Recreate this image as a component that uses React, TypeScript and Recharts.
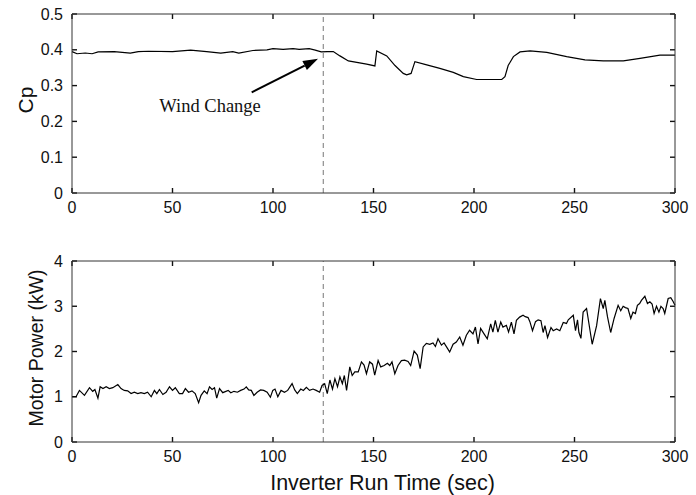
import {
  LineChart,
  Line,
  XAxis,
  YAxis,
  ReferenceLine,
  ReferenceDot,
} from "recharts";

// time axis ticks shared by both panels
const timeTicks = [0, 50, 100, 150, 200, 250, 300];
const cpTicks = [0, 0.1, 0.2, 0.3, 0.4, 0.5];
const powerTicks = [0, 1, 2, 3, 4];

const windChangeTime = 125;

// Cp (top panel)
const cpTime = [
  0, 2.5, 6.6, 10, 13, 21, 29, 33, 38, 50, 59, 67, 74, 80, 83, 90, 97, 100,
  105, 110, 113, 118, 121, 124, 127, 130, 133.3, 137.5, 146.6, 150.7, 151.6,
  156.6, 160.7, 164.8, 166.5, 168.7, 170.6, 176.5, 183, 189.7, 194.7, 201.3,
  213.8, 215.4, 217, 219.6, 222.9, 227.9, 236.2, 246.1, 255.2, 264.3, 274.3,
  282.6, 292.5, 300,
];
const cpValue = [
  0.395, 0.389, 0.391, 0.389, 0.394, 0.395, 0.391, 0.395, 0.396, 0.395, 0.399,
  0.395, 0.391, 0.395, 0.391, 0.398, 0.4, 0.403, 0.401, 0.403, 0.401, 0.403,
  0.399, 0.394, 0.395, 0.395, 0.383, 0.369, 0.36, 0.355, 0.397, 0.383, 0.356,
  0.334, 0.33, 0.334, 0.367, 0.358, 0.348, 0.337, 0.325, 0.317, 0.317, 0.325,
  0.356, 0.381, 0.394, 0.397, 0.393, 0.381, 0.372, 0.369, 0.369, 0.376, 0.385,
  0.385,
];

// Motor power (bottom panel), kW
const powerTime = [
  0, 2, 3.7, 6.2, 8.7, 10.3, 11.4, 12.9, 14, 15.4, 17, 18.6, 20.3, 22.8, 24.4,
  26, 27.7, 29.4, 31, 32.7, 34.3, 36, 37.6, 39.4, 41, 42.2, 43.5, 45.2, 46.8,
  48.5, 50, 51.4, 53.4, 55, 56.4, 58, 59.7, 61.3, 63, 64.2, 65.8, 67.2, 68.4,
  69.7, 70.9, 72, 73.4, 75, 77.7, 79, 80.6, 82.3, 83.9, 85.6, 86.7, 87.9, 89.2,
  90.5, 92.1, 93.8, 95.4, 97.1, 98.7, 99.9, 101, 102.4, 104, 105.7, 107.3,
  109.5, 110.8, 112.1, 113.8, 115.1, 116.6, 118.2, 119.9, 121.5, 123.2, 124.4,
  125.7, 127, 128.3, 129.6, 130.8, 132.1, 133.3, 134.5, 135.5, 136.6, 138.2,
  139.4, 140.7, 142.4, 144, 145.3, 146.5, 148.1, 149.5, 150.6, 152.3, 153.6,
  155.3, 156.9, 158.1, 159.2, 160.6, 162.2, 163.9, 165.5, 167.2, 168.5, 170.2,
  171.8, 173.2, 174.7, 176.3, 178, 179.6, 180.8, 182.1, 183.8, 185.1, 186.8,
  187.9, 189.6, 191.2, 192.9, 194.5, 196.2, 197.8, 199.5, 200.7, 202, 203.3,
  205, 206.6, 208.3, 209.4, 210.6, 211.9, 213.3, 214.4, 216.1, 217.2, 218.6,
  219.9, 221.1, 222.7, 224.4, 225.5, 226.9, 227.8, 229.1, 230.6, 231.9, 233.3,
  234.4, 235.3, 236.6, 238.3, 239.4, 241.1, 242.7, 244.4, 246, 246.9, 249.4,
  250.5, 251.5, 252.2, 253.2, 254.3, 256, 258.8, 261, 262.9, 264.3, 265.1,
  266.4, 268, 269.7, 271.7, 273, 274.2, 275.3, 276.6, 278, 279.1, 280.3, 281.3,
  282.4, 283.3, 285, 286.3, 287.5, 288.6, 289.6, 290.8, 292, 293, 294.1, 294.9,
  296.6, 297.9, 299, 300,
];
const powerValue = [
  1.0, 1.0, 1.14, 1.03, 1.2, 1.12, 1.16, 0.97, 1.22, 1.18, 1.22, 1.18, 1.2,
  1.27, 1.18, 1.14, 1.13, 1.07, 1.1, 1.07, 1.09, 1.07, 1.1, 1.0, 1.14, 1.07,
  1.16, 1.05, 1.1, 1.22, 1.14, 1.2, 1.07, 1.07, 1.18, 1.1, 1.13, 1.07, 0.87,
  1.03, 1.13, 1.07, 1.22, 1.16, 1.2, 0.97, 1.18, 1.09, 1.14, 1.09, 1.12, 1.1,
  1.14, 1.17, 1.22, 1.15, 1.14, 1.03, 1.1, 1.15, 1.14, 1.1, 0.99, 1.14, 1.17,
  1.0, 1.14, 1.1, 1.14, 1.29, 1.15, 1.07, 1.17, 1.14, 1.21, 1.14, 1.17, 1.14,
  1.1, 1.25, 1.29, 1.07, 1.37, 1.17, 1.4, 1.22, 1.44, 1.29, 1.47, 1.14, 1.66,
  1.47, 1.55, 1.55, 1.77, 1.7, 1.51, 1.77, 1.72, 1.48, 1.8, 1.66, 1.69, 1.74,
  1.69, 1.77, 1.51, 1.69, 1.8, 1.81, 1.78, 1.69, 2.01, 1.92, 1.62, 2.1, 2.18,
  2.16, 2.19, 2.11, 2.28, 2.14, 2.19, 2.07, 1.99, 2.16, 2.21, 2.32, 2.14, 2.36,
  2.47, 2.39, 2.54, 2.17, 2.51, 2.39, 2.28, 2.61, 2.43, 2.69, 2.43, 2.65, 2.54,
  2.58, 2.43, 2.65, 2.39, 2.69, 2.76, 2.8, 2.77, 2.75, 2.66, 2.46, 2.66, 2.7,
  2.68, 2.42, 2.57, 2.31, 2.53, 2.46, 2.5, 2.46, 2.64, 2.62, 2.7, 2.8, 2.46,
  2.7, 2.42, 2.29, 2.87, 2.95, 2.16, 2.57, 3.17, 2.95, 3.13, 2.77, 2.42, 2.73,
  3.02, 2.9, 3.0, 2.97, 2.95, 2.73, 2.87, 2.84, 3.02, 3.06, 3.13, 3.22, 3.06,
  3.1, 3.05, 2.84, 3.0, 2.87, 3.0, 2.95, 2.84, 3.17, 3.19, 3.11, 3.02,
];

// annotation anchors (data units)
const arrowFrom = { x: 89.4, y: 0.281 };
const arrowTo = { x: 122.4, y: 0.375 };
const annotationAt = { x: 68.7, y: 0.245 };

const cpData = cpTime.map((t, i) => ({ t, v: cpValue[i] }));
const powerData = powerTime.map((t, i) => ({ t, v: powerValue[i] }));

const SANS = "'Liberation Sans', Arial, sans-serif";
const axisColor = "#333";
const TICK_LEN = 5;
const tickFont = { fontSize: 16, fill: "#111", fontFamily: SANS };

// inward tick marks at both ends of a reference line (matlab box style)
function InTicks(p: any) {
  const { x1, y1, x2, y2 } = p;
  if (Math.abs(x1 - x2) < 0.5) {
    const top = Math.min(y1, y2);
    const bot = Math.max(y1, y2);
    return (
      <g stroke="#111" strokeWidth={1.4}>
        <line x1={x1} x2={x1} y1={bot} y2={bot - TICK_LEN} />
        <line x1={x1} x2={x1} y1={top} y2={top + TICK_LEN} />
      </g>
    );
  }
  const left = Math.min(x1, x2);
  const right = Math.max(x1, x2);
  return (
    <g stroke="#111" strokeWidth={1.4}>
      <line x1={left} x2={left + TICK_LEN} y1={y1} y2={y1} />
      <line x1={right} x2={right - TICK_LEN} y1={y1} y2={y1} />
    </g>
  );
}

function tickMarks(yTicks: number[]) {
  return [
    ...timeTicks.map((t) => (
      <ReferenceLine key={`tx${t}`} x={t} shape={InTicks} ifOverflow="visible" />
    )),
    ...yTicks.map((v) => (
      <ReferenceLine key={`ty${v}`} y={v} shape={InTicks} ifOverflow="visible" />
    )),
  ];
}

function Arrow(props: any) {
  const { x1, y1, x2, y2 } = props;
  const dx = x2 - x1;
  const dy = y2 - y1;
  const len = Math.sqrt(dx * dx + dy * dy);
  const ux = dx / len;
  const uy = dy / len;
  const headLen = 15;
  const headHalf = 5;
  const bx = x2 - ux * headLen;
  const by = y2 - uy * headLen;
  return (
    <g>
      <line x1={x1} y1={y1} x2={bx} y2={by} stroke="#000" strokeWidth={2} />
      <polygon
        points={`${x2},${y2} ${bx - uy * headHalf},${by + ux * headHalf} ${bx + uy * headHalf},${by - ux * headHalf}`}
        fill="#000"
      />
    </g>
  );
}

function boxAxes(yDomain: number[], yTicks: number[], xMargin: number) {
  return [
    <XAxis
      key="xb"
      dataKey="t"
      type="number"
      domain={[0, 300]}
      ticks={timeTicks}
      height={30}
      tickSize={0}
      tickLine={false}
      tickMargin={xMargin}
      tick={tickFont}
      stroke={axisColor}
    />,
    <XAxis
      key="xt"
      xAxisId="top"
      dataKey="t"
      type="number"
      orientation="top"
      domain={[0, 300]}
      height={1}
      tick={false}
      tickLine={false}
      stroke={axisColor}
    />,
    <YAxis
      key="yl"
      type="number"
      domain={yDomain}
      ticks={yTicks}
      width={60}
      tickSize={0}
      tickLine={false}
      tickMargin={9}
      tick={tickFont}
      stroke={axisColor}
    />,
    <YAxis
      key="yr"
      yAxisId="right"
      orientation="right"
      type="number"
      domain={yDomain}
      width={1}
      tick={false}
      tickLine={false}
      stroke={axisColor}
    />,
  ];
}

export default function App() {
  return (
    <div
      style={{
        position: "absolute",
        left: 0,
        top: 0,
        width: 696,
        height: 495,
        background: "#fff",
      }}
    >
      <div style={{ position: "absolute", left: 0, top: 0 }}>
        <LineChart
          width={696}
          height={230}
          data={cpData}
          margin={{ top: 13, right: 20, bottom: 7, left: 12 }}
        >
          {boxAxes([0, 0.5], cpTicks, 8.9)}
          {tickMarks(cpTicks)}
          <ReferenceLine
            x={windChangeTime}
            stroke="#777"
            strokeDasharray="5 4"
            strokeWidth={1}
          />
          <Line
            dataKey="v"
            type="linear"
            stroke="#000"
            strokeWidth={1.2}
            dot={false}
            isAnimationActive={false}
          />
          <ReferenceLine
            segment={[arrowFrom, arrowTo]}
            shape={(p: any) => <Arrow {...p} />}
            ifOverflow="visible"
          />
          <ReferenceDot
            x={annotationAt.x}
            y={annotationAt.y}
            r={0}
            ifOverflow="visible"
            shape={(p: any) => (
              <text
                x={p.cx}
                y={p.cy + 7}
                textAnchor="middle"
                fontSize={18.5}
                fill="#111"
                fontFamily="'Liberation Serif', 'Times New Roman', serif"
              >
                Wind Change
              </text>
            )}
          />
        </LineChart>
        <div
          style={{
            position: "absolute",
            left: 26,
            top: 100,
            transform: "translate(-50%, -50%) rotate(-90deg)",
            fontFamily: SANS,
            fontSize: 21,
            color: "#111",
            whiteSpace: "nowrap",
          }}
        >
          Cp
        </div>
      </div>
      <div style={{ position: "absolute", left: 0, top: 235 }}>
        <LineChart
          width={696}
          height={260}
          data={powerData}
          margin={{ top: 25, right: 20, bottom: 23, left: 12 }}
        >
          {boxAxes([0, 4], powerTicks, 8.3)}
          {tickMarks(powerTicks)}
          <ReferenceLine
            x={windChangeTime}
            stroke="#777"
            strokeDasharray="5 4"
            strokeWidth={1}
          />
          <Line
            dataKey="v"
            type="linear"
            stroke="#000"
            strokeWidth={1.2}
            dot={false}
            isAnimationActive={false}
          />
        </LineChart>
        <div
          style={{
            position: "absolute",
            left: 36,
            top: 113,
            transform: "translate(-50%, -50%) rotate(-90deg)",
            fontFamily: SANS,
            fontSize: 19.5,
            color: "#111",
            whiteSpace: "nowrap",
          }}
        >
          Motor Power (kW)
        </div>
        <div
          style={{
            position: "absolute",
            left: 0,
            top: 236,
            width: 765,
            textAlign: "center",
            fontFamily: SANS,
            fontSize: 21.5,
            color: "#111",
            lineHeight: "24px",
          }}
        >
          Inverter Run Time (sec)
        </div>
      </div>
    </div>
  );
}
